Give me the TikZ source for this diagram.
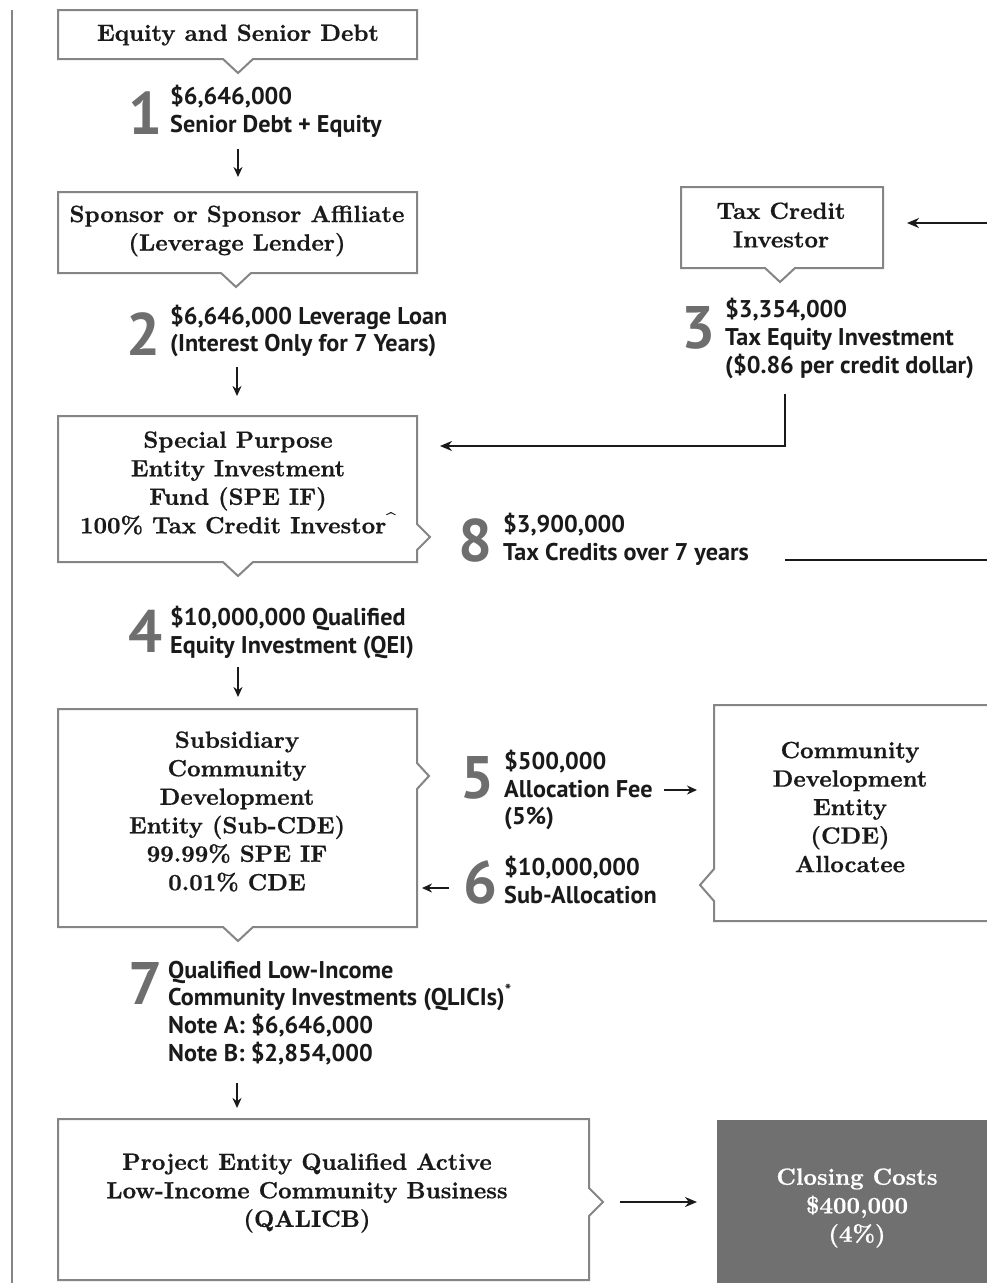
\documentclass[tikz,border=0pt]{standalone}
\usepackage{fontspec}
\newfontfamily\ptsans{PT Sans}
\newfontfamily\boxfont[FakeBold=0.6]{lmroman10-bold.otf}
\usetikzlibrary{arrows.meta,calc}
\definecolor{boxgray}{HTML}{858585}
\definecolor{numgray}{HTML}{6E6E6E}
\definecolor{ink}{HTML}{1A1A1A}
\definecolor{darkfill}{HTML}{707070}
\tikzset{
  boxline/.style={draw=boxgray, line width=2pt, fill=white, line join=miter},
  boxtext/.style={font=\boxfont\fontsize{23.5}{28.5}\selectfont, text=ink, align=center, inner sep=0pt},
  steptext/.style={font=\ptsans\bfseries\fontsize{24.2}{27.8}\selectfont, text=ink, align=left, inner sep=0pt, anchor=west},
  stepnum/.style={font=\ptsans\bfseries\fontsize{60}{60}\selectfont, text=numgray, inner sep=0pt, anchor=south east},
  flow/.style={draw=ink, line width=2pt, -{Stealth[length=12pt,width=10pt]}},
  smallflow/.style={draw=ink, line width=1.8pt, -{Stealth[length=10pt,width=9pt]}},
  plainline/.style={draw=ink, line width=2pt},
}
\begin{document}
\begin{tikzpicture}[x=1pt, y=-1pt]
\useasboundingbox (0,0) rectangle (986,1283);
\fill[white] (0,0) rectangle (986,1283);

% left rule
\draw[draw=boxgray, line width=2pt] (12,10) -- (12,1283);

% box outlines
\draw[boxline] (58,10) -- (417,10) -- (417,59) -- (253,59) -- (238,73) -- (223,59) -- (58,59) -- cycle;
\draw[boxline] (58,192) -- (417,192) -- (417,273) -- (251,273) -- (236,287) -- (221,273) -- (58,273) -- cycle;
\draw[boxline] (681,187) -- (883,187) -- (883,268) -- (795,268) -- (780,282) -- (765,268) -- (681,268) -- cycle;
\draw[boxline] (58,416) -- (417,416) -- (417,524) -- (430,537) -- (417,550) -- (417,562) -- (253,562) -- (238,576) -- (223,562) -- (58,562) -- cycle;
\draw[boxline] (58,709) -- (417,709) -- (417,763) -- (429,776) -- (417,789) -- (417,927) -- (253,927) -- (238,941) -- (223,927) -- (58,927) -- cycle;
\draw[boxline] (995,705) -- (714,705) -- (714,869) -- (700,885) -- (714,901) -- (714,921) -- (995,921);
\draw[boxline] (58,1119) -- (589,1119) -- (589,1188) -- (603,1202) -- (589,1216) -- (589,1280) -- (58,1280) -- cycle;
\fill[darkfill] (717,1120) rectangle (995,1290);

% box texts
\node[boxtext] (eq) at (238,35) {Equity and Senior Debt};
\node[boxtext] (sp) at (237,231) {Sponsor or Sponsor Affiliate\\(Leverage Lender)};
\node[boxtext] (tci) at (781,225) {Tax Credit\\Investor};
\node[boxtext] (spe) at (238,483) {Special Purpose\\Entity Investment\\Fund (SPE IF)\\100\% Tax Credit Investor\textsuperscript{\textasciicircum}};
\node[boxtext] (sub) at (237,811.5) {Subsidiary\\Community\\Development\\Entity (Sub-CDE)\\99.99\% SPE IF\\0.01\% CDE};
\node[boxtext] (cde) at (850,807) {Community\\Development\\Entity\\(CDE)\\Allocatee};
\node[boxtext] (qal) at (307,1193) {Project Entity Qualified Active\\Low-Income Community Business\\(QALICB)};
\node[boxtext, text=white] (cc) at (857,1208) {Closing Costs\\\$400,000\\(4\%)};

% step numbers
\node[stepnum] (n1) at (163,135) {1};
\node[stepnum] (n2) at (161,356) {2};
\node[stepnum] (n3) at (716,350) {3};
\node[stepnum] (n4) at (163,653) {4};
\node[stepnum] (n5) at (495,800) {5};
\node[stepnum] (n6) at (498,905) {6};
\node[stepnum] (n7) at (163,1005) {7};
\node[stepnum] (n8) at (493,563) {8};

% step texts
\node[steptext] (s1) at (170,111.5) {\$6,646,000\\Senior Debt + Equity};
\node[steptext] (s2) at (170,331) {\$6,646,000 Leverage Loan\\(Interest Only for 7 Years)};
\node[steptext] (s3) at (725,338.5) {\$3,354,000\\Tax Equity Investment\\(\$0.86 per credit dollar)};
\node[steptext] (s4) at (170,632.5) {\$10,000,000 Qualified\\Equity Investment (QEI)};
\node[steptext] (s5) at (504,790) {\$500,000\\Allocation Fee\\(5\%)};
\node[steptext] (s6) at (504,880) {\$10,000,000\\Sub-Allocation};
\node[steptext] (s7) at (168,1013) {Qualified Low-Income\\Community Investments (QLICIs)\textsuperscript{*}\\Note A: \$6,646,000\\Note B: \$2,854,000};
\node[steptext] (s8) at (503,539) {\$3,900,000\\Tax Credits over 7 years};

% connector end points
\coordinate (a1s) at (238,149); \coordinate (a1e) at (238,177);
\coordinate (a2s) at (237,367); \coordinate (a2e) at (237,396);
\coordinate (a4s) at (238,667); \coordinate (a4e) at (238,697);
\coordinate (a7s) at (237,1083); \coordinate (a7e) at (237,1108);
\coordinate (a3s) at (785,394); \coordinate (a3k) at (785,446); \coordinate (a3e) at (440,446);
\coordinate (tops) at (990,223); \coordinate (tope) at (907,223);
\coordinate (l8s) at (785,560); \coordinate (l8e) at (990,560);
\coordinate (a5s) at (664,790); \coordinate (a5e) at (697,790);
\coordinate (a6s) at (449,888); \coordinate (a6e) at (422,888);
\coordinate (ccs) at (620,1202); \coordinate (cce) at (697,1202);

% connectors
\draw[smallflow] (a1s) -- (a1e);
\draw[smallflow] (a2s) -- (a2e);
\draw[smallflow] (a4s) -- (a4e);
\draw[smallflow] (a7s) -- (a7e);
\draw[flow] (a3s) -- (a3k) -- (a3e);
\draw[flow] (tops) -- (tope);
\draw[plainline] (l8s) -- (l8e);
\draw[smallflow] (a5s) -- (a5e);
\draw[smallflow] (a6s) -- (a6e);
\draw[flow] (ccs) -- (cce);
\end{tikzpicture}
\end{document}
